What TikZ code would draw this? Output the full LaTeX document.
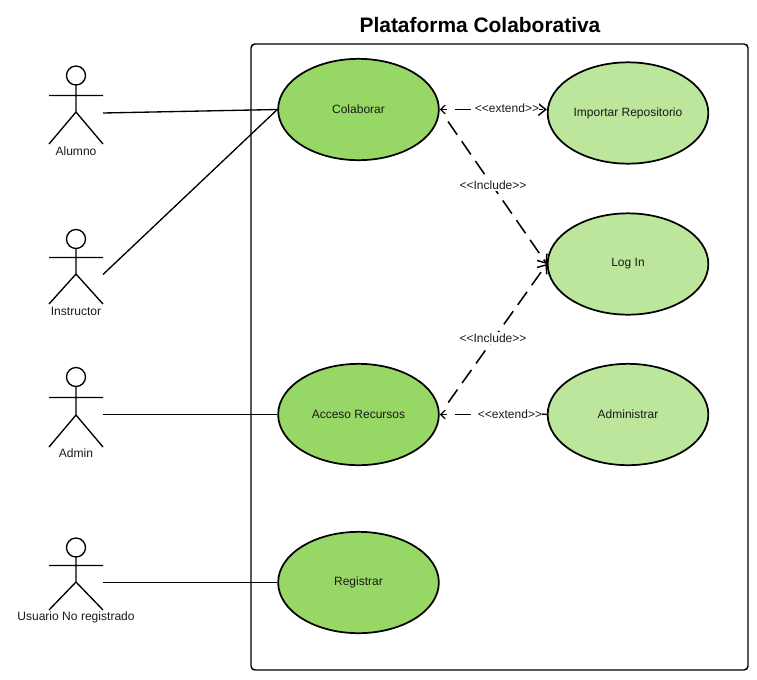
\documentclass[tikz,border=0pt]{standalone}
\usepackage{fontspec}
\setmainfont{Liberation Sans}
\usetikzlibrary{arrows.meta,shapes.geometric}
\definecolor{ucdark}{HTML}{97D766}
\definecolor{uclight}{HTML}{BBE69B}
\definecolor{inktext}{HTML}{1A1A1A}
\newcommand{\drawactor}[4]{%
  \draw[actorline] (76,#1) circle (9.5);
  \draw[actorline] (76,#1+9.5) -- (76,#3) (49,#2) -- (103,#2) (49,#4) -- (76,#3) -- (103,#4);
}
\tikzset{
  ucase/.style={ellipse,draw=black,line width=1.3pt,minimum width=120.5pt,minimum height=76pt,inner sep=0pt,font=\fontsize{9pt}{11pt}\selectfont,text=inktext},
  ucdarkfill/.style={ucase,fill=ucdark},
  uclightfill/.style={ucase,fill=uclight},
  actorline/.style={line width=1pt,black},
  assoc/.style={line width=1pt,black},
  dep/.style={line width=1.15pt,black,dash pattern=on 12pt off 6pt},
  bigtip/.tip={Straight Barb[length=5.5pt,width=9pt,line width=1.1pt]},
  smalltip/.tip={Straight Barb[length=3.5pt,width=6.5pt,line width=.9pt]},
  lbl/.style={font=\fontsize{9pt}{11pt}\selectfont,text=inktext,inner xsep=0pt,inner ysep=1pt},
  actorlabel/.style={font=\fontsize{9.05pt}{11pt}\selectfont,text=inktext,inner sep=0pt},
}
\begin{document}
\begin{tikzpicture}[x=0.75pt,y=-0.75pt]
\useasboundingbox (0,0) rectangle (757,679);
\node[font=\bfseries\fontsize{15.7pt}{19pt}\selectfont] (title) at (480,25) {Plataforma Colaborativa};
\draw[line width=1.1pt,rounded corners=3pt] (251,44) rectangle (748,670);

\node[ucdarkfill] (colaborar) at (358.5,109.5) {Colaborar};
\node[uclightfill] (importar) at (628,113) {Importar Repositorio};
\node[uclightfill] (login) at (628,264) {Log In};
\node[ucdarkfill] (acceso) at (358.5,414.5) {Acceso Recursos};
\node[uclightfill] (administrar) at (628,414.5) {Administrar};
\node[ucdarkfill] (registrar) at (358.5,582.5) {Registrar};

\drawactor{75.5}{95.5}{112}{144}
\drawactor{239}{257.5}{274}{304}
\drawactor{377}{397.5}{415}{447}
\drawactor{547.5}{565.5}{582}{610}
\node[actorlabel] (alumno) at (76,151) {Alumno};
\node[actorlabel] (instructor) at (76,311) {Instructor};
\node[actorlabel] (admin) at (76,453) {Admin};
\node[actorlabel] (usuario) at (76,617) {Usuario No registrado};
\coordinate (a1) at (103,113);
\coordinate (a2) at (103,274.5);
\coordinate (a3) at (103,414.5);
\coordinate (a4) at (103,582.5);

\draw[assoc] (a1) -- (colaborar.west);
\draw[assoc] (a2) -- (colaborar.west);
\draw[assoc] (a3) -- (acceso.west);
\draw[assoc] (a4) -- (registrar.west);

\draw[dep,dash phase=7.5pt,{smalltip}-{bigtip}] (colaborar.east) -- (importar.west |- colaborar.east);
\draw[dep,dash phase=12pt,shorten <=5pt,-{bigtip}] (colaborar.east) -- (login.west);
\draw[dep,dash phase=12pt,shorten <=5pt,-{bigtip}] (acceso.east) -- (login.west);
\draw[dep,dash phase=7.5pt,{smalltip}-] (acceso.east) -- (administrar.west);

\node[lbl,fill=white] (l1) at (507,108) {<{}<extend>{}>};
\node[lbl,fill=white] (l2) at (493,185) {<{}<Include>{}>};
\node[lbl,fill=white] (l3) at (493,338) {<{}<Include>{}>};
\node[lbl,fill=white] (l4) at (510,414) {<{}<extend>{}>};
\draw[assoc] (l4.east) -- (administrar.west);
\end{tikzpicture}
\end{document}
